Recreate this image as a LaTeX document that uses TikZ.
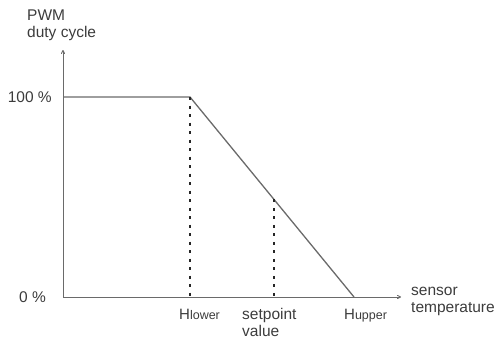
\documentclass[tikz,border=0pt]{standalone}
\usepackage{fontspec}
\setmainfont{Liberation Sans}
\usetikzlibrary{arrows.meta, calc}
\definecolor{axisgray}{HTML}{6A6A6A}
\definecolor{textgray}{HTML}{3C3C3C}
\tikzset{
	axis/.style={draw=axisgray, line width=0.9pt, -{To[length=4pt, width=4pt]}},
	curve/.style={draw=axisgray, line width=1.3pt},
	marker/.style={draw=black!85, line width=1.8pt, dash pattern=on 3pt off 5.5pt},
	lbl/.style={inner sep=0, text=textgray, font=\fontsize{15.5}{17}\selectfont},
	hlbl/.style={inner sep=0, text=textgray, font=\fontsize{15}{17}\selectfont}
}
\begin{document}
\begin{tikzpicture}[x=1pt, y=-1pt]
	\def\Ox{63}
	\def\Oy{297}
	\def\Top{97}
	\def\Hl{190}
	\def\Hu{354}
	\def\Sp{274}

	\useasboundingbox (0,0) rectangle (502,340);

	% axes
	\coordinate (origin) at (\Ox,\Oy);
	\coordinate (ytip) at (\Ox,50);
	\coordinate (xtip) at (401,\Oy);
	\draw[axis] (origin) -- (ytip);
	\draw[axis] (origin) -- (xtip);

	% duty cycle curve
	\coordinate (full) at (\Ox,\Top);
	\coordinate (lower) at (\Hl,\Top);
	\coordinate (upper) at (\Hu,\Oy);
	\coordinate (setp) at ($(lower)!{(\Sp-\Hl)/(\Hu-\Hl)}!(upper)$);
	\draw[curve] (full) -- (lower) -- (upper);

	% markers
	\draw[marker] (lower) -- (\Hl,\Oy);
	\draw[marker] (setp) -- (setp |- origin);

	% labels (base = last line)
	\node[lbl, anchor=base west, align=left] (ylabel) at (27,37) {PWM\\duty cycle};
	\node[lbl, anchor=east] (hundred) at (52,97) {100 \%};
	\node[lbl, anchor=east] (zero) at (46,297) {0 \%};
	\node[lbl, anchor=base west, align=left] (xlabel) at (411,312) {sensor\\temperature};
	\node[hlbl, anchor=base west] (hlower) at (179,319) {H{\fontsize{12.5}{14}\selectfont lower}};
	\node[lbl, anchor=base west, align=left] (setlabel) at (242,336) {setpoint\\value};
	\node[hlbl, anchor=base west] (hupper) at (344,319) {H{\fontsize{12.5}{14}\selectfont upper}};
\end{tikzpicture}
\end{document}
